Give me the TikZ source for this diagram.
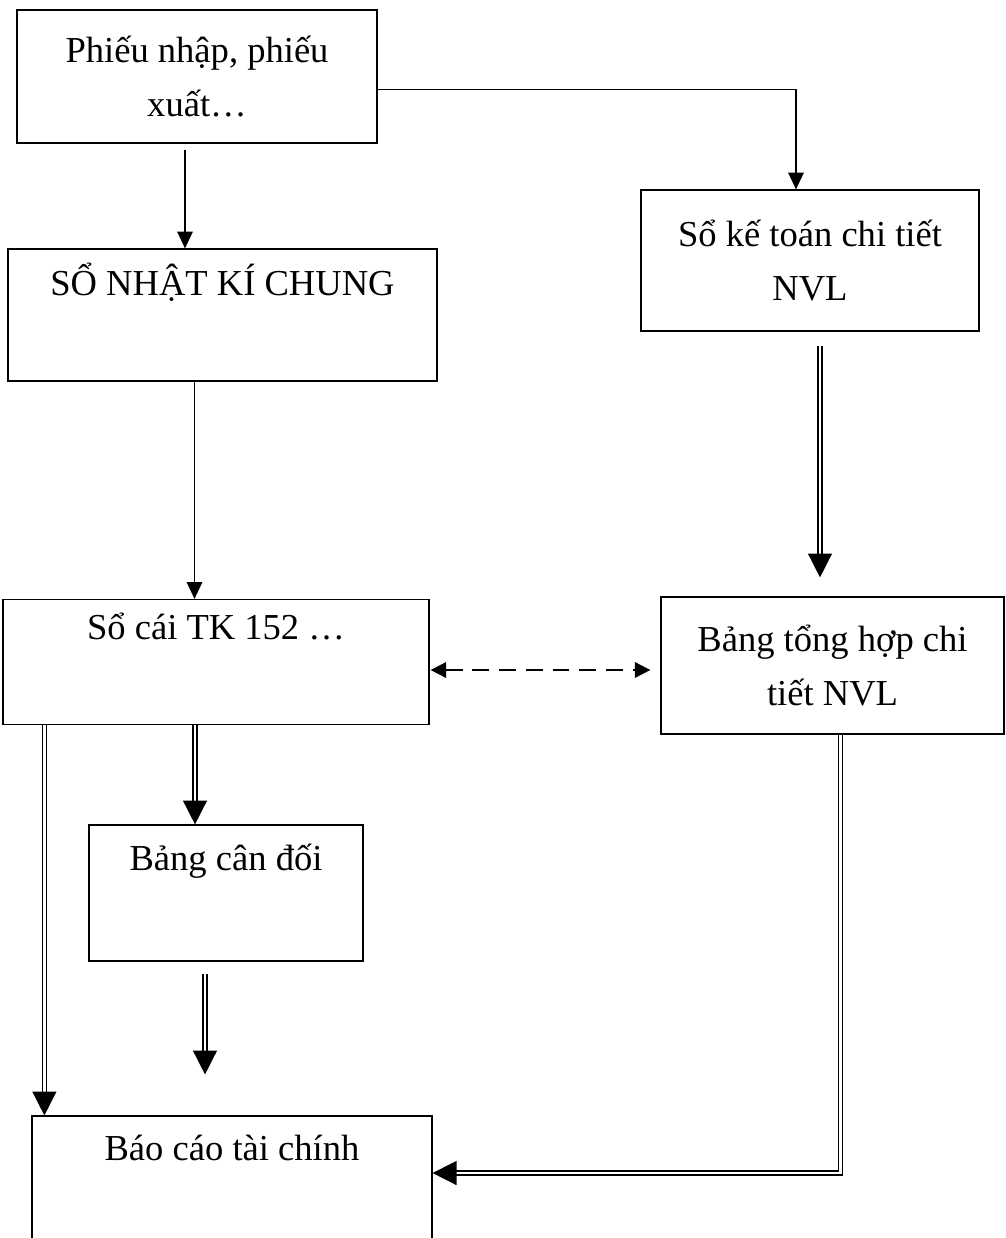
\documentclass[tikz,border=0pt]{standalone}
\usepackage{fontspec}
\setmainfont{Liberation Serif}
\usetikzlibrary{arrows.meta,calc}

\tikzset{
  hop/.style 2 args={draw, line width=0.8pt, minimum width=#1cm, minimum height=#2cm,
    inner sep=0pt, align=center, font=\fontsize{26}{39}\selectfont},
  arr/.style={line width=1.3pt, -{Triangle[length=12pt,width=11pt]}},
  dbl/.style={double, double distance=1.7pt, line width=1.1pt,
    -{Triangle[length=17pt,width=17pt]}},
  darr/.style={line width=1.3pt, dash pattern=on 12pt off 7pt,
    {Triangle[length=11pt,width=11pt]}-{Triangle[length=11pt,width=11pt]}}
}

\begin{document}
\begin{tikzpicture}[x=0.025cm, y=-0.025cm]
		\useasboundingbox (0,0) rectangle (1006,1238);
		
		% Các hộp
		\node[hop={9}{3.325}] (phieu) at (197,76.5) {Phiếu nhập, phiếu\\xuất…};
		\node[hop={10.725}{3.3}] (nkc) at (222.5,315) {SỔ NHẬT KÍ CHUNG\\\strut};
		\node[hop={8.45}{3.525}] (chitiet) at (810,260.5) {Sổ kế toán chi tiết\\NVL};
		\node[hop={10.65}{3.125}] (socai) at (216,662) {Sổ cái TK 152 …\\\strut};
		\node[hop={8.575}{3.425}] (tonghop) at (832.5,665.5) {Bảng tổng hợp chi\\tiết NVL};
		\node[hop={6.85}{3.4}] (candoi) at (226,893) {Bảng cân đối\\\strut};
		\node[hop={10}{3.35}] (baocao) at (232,1183) {Báo cáo tài chính\\\strut};
		
		% Điểm phụ
		\coordinate (p1) at ($(phieu.south)+(-12,6)$);
		\coordinate (p2) at ($(phieu.east)+(0,13)$);
		\coordinate (p3) at ($(chitiet.north)+(-14,0)$);
		\coordinate (p4) at ($(nkc.south)+(-28,0)$);
		\coordinate (p5) at ($(chitiet.south)+(10,14)$);
		\coordinate (p6) at ($(socai.east)+(1,8)$);
		\coordinate (p7) at ($(socai.south west)+(42,0)$);
		\coordinate (p8) at ($(socai.south)+(-21,0)$);
		\coordinate (p9) at ($(candoi.south)+(-21,12)$);
		\coordinate (p10) at ($(tonghop.south)+(8,0)$);
		\coordinate (p11) at ($(baocao.east)+(0,-10)$);
		
		% Mũi tên đơn
		\draw[arr] (p1) -- (p1 |- nkc.north);
		\draw[arr] (p2) -| (p3);
		\draw[arr] (p4) -- (p4 |- socai.north);
		
		% Mũi tên kép
		\draw[dbl, shorten >=19*0.025cm] (p5) -- (p5 |- tonghop.north);
		\draw[dbl] (p7) -- (p7 |- baocao.north);
		\draw[dbl] (p8) -- (p8 |- candoi.north);
		\draw[dbl, shorten >=41*0.025cm] (p9) -- (p9 |- baocao.north);
		\draw[dbl] (p10) |- (p11);
		
		% Đối chiếu
		\draw[darr, shorten >=10*0.025cm] (p6) -- (p6 -| tonghop.west);
		\end{tikzpicture}
\end{document}
